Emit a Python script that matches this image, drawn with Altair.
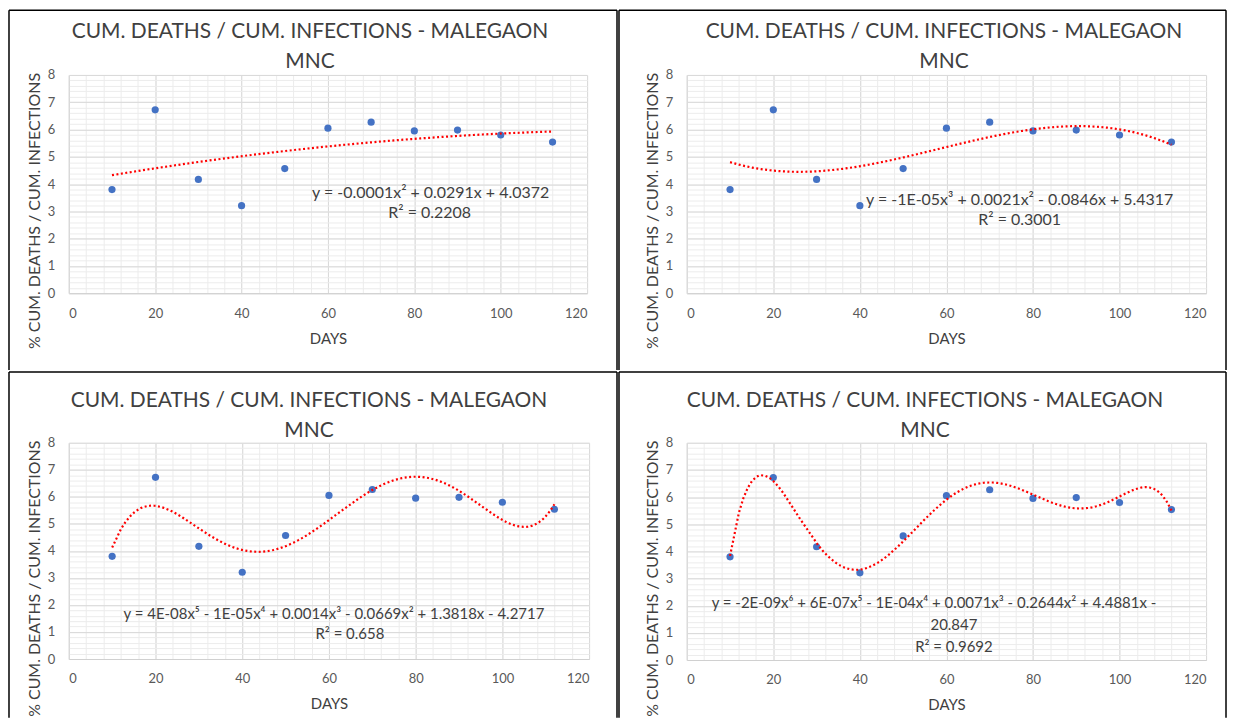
import pandas as pd
import altair as alt

FONT = "Lato"

# data
days = [10, 20, 30, 40, 50, 60, 70, 80, 90, 100, 112]
ratio = [3.80, 6.72, 4.17, 3.21, 4.57, 6.05, 6.27, 5.95, 5.98, 5.80, 5.54]

poly_orders = [2, 3, 5, 6]
equations = [
    ["y = -0.0001x² + 0.0291x + 4.0372", "R² = 0.2208"],
    ["y = -1E-05x³ + 0.0021x² - 0.0846x + 5.4317", "R² = 0.3001"],
    ["y = 4E-08x⁵ - 1E-05x⁴ + 0.0014x³ - 0.0669x² + 1.3818x - 4.2717", "R² = 0.658"],
    ["y = -2E-09x⁶ + 6E-07x⁵ - 1E-04x⁴ + 0.0071x³ - 0.2644x² + 4.4881x -",
     "20.847", "R² = 0.9692"],
]

title_lines = ["CUM. DEATHS / CUM. INFECTIONS - MALEGAON", "MNC"]
x_title = "DAYS"
y_title = "% CUM. DEATHS / CUM. INFECTIONS"

x_ticks = [0, 20, 40, 60, 80, 100, 120]
y_ticks = [0, 1, 2, 3, 4, 5, 6, 7, 8]
x_minor = list(range(0, 121, 4))
y_minor = [v / 5 for v in range(0, 41)]

source = pd.DataFrame({"day": days, "ratio": ratio})
one_row = pd.DataFrame({"k": [0]})

# per-panel layout (pixels, relative to the plot area)
layouts = [
    dict(size=(520, 219), border=(-60, 550, -65, 296), eq_size=16,
         title_pos=[(242, -43), (242, -13)],
         eq_pos=[(363, 118), (362, 139)]),
    dict(size=(521, 219), border=(-68, 541, -65, 296), eq_size=16,
         title_pos=[(258, -43), (258, -13)],
         eq_pos=[(334, 125), (334, 146)]),
    dict(size=(522, 217), border=(-60, 550, -71, 276), eq_size=15,
         title_pos=[(241, -42), (241, -12)],
         eq_pos=[(266, 172), (282, 192)]),
    dict(size=(521, 218), border=(-68, 541, -71, 276), eq_size=15,
         title_pos=[(239, -42), (239, -12)],
         eq_pos=[(248, 161), (268, 183), (268, 205)]),
]


def text_layer(line, pos, size, color):
    return alt.Chart(one_row).mark_text(
        text=line, font=FONT, fontSize=size, color=color,
        align="center", baseline="middle"
    ).encode(x=alt.value(pos[0]), y=alt.value(pos[1]))


def panel(order, eq_lines, lay):
    w, h = lay["size"]
    xs = alt.Scale(domain=[0, 120], nice=False)
    ys = alt.Scale(domain=[0, 8], nice=False)
    base = alt.Chart(source)

    # minor gridlines only
    minor = base.mark_circle(opacity=0).encode(
        x=alt.X("day:Q", scale=xs, axis=alt.Axis(
            values=x_minor, grid=True, gridColor="#ececec", labels=False,
            ticks=False, domain=False, title=None, orient="bottom")),
        y=alt.Y("ratio:Q", scale=ys, axis=alt.Axis(
            values=y_minor, grid=True, gridColor="#ececec", labels=False,
            ticks=False, domain=False, title=None, orient="left")),
    )

    dots = base.mark_circle(size=52, color="#4472C4", opacity=1).encode(
        x=alt.X("day:Q", scale=xs, axis=alt.Axis(
            values=x_ticks, grid=True, gridColor="#d9d9d9", domainColor="#d0d0d0",
            ticks=False, labelPadding=14, labelFontSize=13, labelColor="#595959",
            labelFont=FONT, title=x_title, titleFont=FONT, titleFontSize=15,
            titleFontWeight="normal", titleColor="#404040", titlePadding=11,
            orient="bottom")),
        y=alt.Y("ratio:Q", scale=ys, axis=alt.Axis(
            values=y_ticks, grid=True, gridColor="#d9d9d9", domainColor="#d9d9d9",
            ticks=False, labelPadding=14, labelFontSize=13, labelColor="#595959",
            labelFont=FONT, title=y_title, titleFont=FONT, titleFontSize=16,
            titleFontWeight="normal", titleColor="#404040", titleX=-34,
            titleY=136, titleBaseline="middle", orient="left")),
    )

    trend = base.transform_regression(
        "day", "ratio", method="poly", order=order
    ).mark_line(color="#ff0000", strokeDash=[2, 2.5], strokeWidth=2.2).encode(
        x=alt.X("day:Q", scale=xs, axis=None),
        y=alt.Y("ratio:Q", scale=ys, axis=None),
    )

    titles = [text_layer(t, p, 21, "#404040")
              for t, p in zip(title_lines, lay["title_pos"])]
    labels = [text_layer(t, p, lay["eq_size"], "#404040")
              for t, p in zip(eq_lines, lay["eq_pos"])]

    l, r, t, b = lay["border"]
    frame = [
        alt.Chart(one_row).mark_rule(color="#000000", strokeWidth=1.5).encode(
            x=alt.value(l), y=alt.value(t), y2=alt.value(b)),
        alt.Chart(one_row).mark_rule(color="#000000", strokeWidth=1.5).encode(
            x=alt.value(r), y=alt.value(t), y2=alt.value(b)),
        alt.Chart(one_row).mark_rule(color="#000000", strokeWidth=1.5).encode(
            x=alt.value(l), x2=alt.value(r), y=alt.value(t)),
    ]

    return alt.layer(minor, dots, trend, *titles, *labels, *frame).resolve_axis(
        x="independent", y="independent"
    ).properties(width=w, height=h)


panels = [panel(o, e, l) for o, e, l in zip(poly_orders, equations, layouts)]

chart = alt.vconcat(
    alt.hconcat(panels[0], panels[1], spacing=0),
    alt.hconcat(panels[2], panels[3], spacing=0),
    spacing=0,
).properties(padding=0).configure_view(stroke=None)

chart.save("out.html", embed_options={"renderer": "svg", "actions": False})
